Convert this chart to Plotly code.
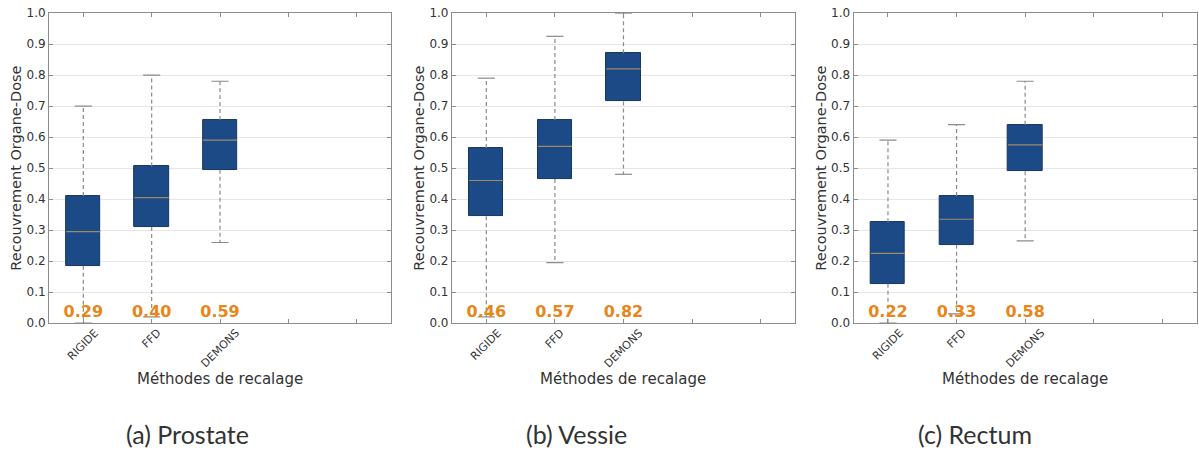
import plotly.graph_objects as go

# -- Donnees -------------------------------------------------------------------
METHODES = ["RIGIDE", "FFD", "DEMONS"]
POSITIONS = [1, 2, 3]
ORGANES = ["(a) Prostate", "(b) Vessie", "(c) Rectum"]

# statistiques des boites: moustache basse, Q1, mediane, Q3, moustache haute
prostate_bas = [0.00, 0.02, 0.26]
prostate_q1 = [0.185, 0.31, 0.495]
prostate_med = [0.295, 0.405, 0.59]
prostate_q3 = [0.41, 0.505, 0.655]
prostate_haut = [0.70, 0.80, 0.78]
prostate_moy = ["0.29", "0.40", "0.59"]

vessie_bas = [0.02, 0.195, 0.48]
vessie_q1 = [0.345, 0.465, 0.715]
vessie_med = [0.46, 0.57, 0.82]
vessie_q3 = [0.565, 0.655, 0.87]
vessie_haut = [0.79, 0.925, 1.0]
vessie_moy = ["0.46", "0.57", "0.82"]

rectum_bas = [0.00, 0.03, 0.265]
rectum_q1 = [0.127, 0.253, 0.49]
rectum_med = [0.225, 0.335, 0.575]
rectum_q3 = [0.325, 0.41, 0.64]
rectum_haut = [0.59, 0.64, 0.78]
rectum_moy = ["0.22", "0.33", "0.58"]

# -- Style ---------------------------------------------------------------------
BLEU = "#1c4a86"
GRIS = "#8a8a8a"
MEDIANE = "#a08a6a"
ORANGE = "#e8861a"
TEXTE = "#333333"
POLICE = "DejaVu Sans"
DEMI_BOITE = 0.25
DEMI_CAP = 0.125

DOMAINES_X = [[0.041, 0.326], [0.377, 0.663], [0.712, 0.998]]
DOMAINE_Y = [0.282, 0.971]
CENTRES_LEGENDE = [187, 576, 975]

panneaux = [
    (prostate_bas, prostate_q1, prostate_med, prostate_q3, prostate_haut, prostate_moy),
    (vessie_bas, vessie_q1, vessie_med, vessie_q3, vessie_haut, vessie_moy),
    (rectum_bas, rectum_q1, rectum_med, rectum_q3, rectum_haut, rectum_moy),
]

fig = go.Figure()

for i, (bas, q1, med, q3, haut, moy) in enumerate(panneaux):
    suffixe = "" if i == 0 else str(i + 1)
    xa, ya = "x" + suffixe, "y" + suffixe

    # moustaches en pointilles
    wx, wy = [], []
    for p, a, b, c, d in zip(POSITIONS, bas, q1, q3, haut):
        wx += [p, p, None, p, p, None]
        wy += [c, d, None, b, a, None]
    fig.add_trace(go.Scatter(x=wx, y=wy, mode="lines", xaxis=xa, yaxis=ya,
                             line=dict(color=GRIS, width=1.2, dash="4px,3px"),
                             hoverinfo="skip", showlegend=False))

    # boites
    fig.add_trace(go.Bar(x=POSITIONS, y=[c - b for b, c in zip(q1, q3)], base=q1,
                         width=2 * DEMI_BOITE, xaxis=xa, yaxis=ya,
                         marker=dict(color=BLEU, line=dict(color="#15365f", width=1)),
                         showlegend=False))

    # embouts des moustaches
    cx, cy = [], []
    for p, a, d in zip(POSITIONS, bas, haut):
        cx += [p - DEMI_CAP, p + DEMI_CAP, None, p - DEMI_CAP, p + DEMI_CAP, None]
        cy += [d, d, None, a, a, None]
    fig.add_trace(go.Scatter(x=cx, y=cy, mode="lines", xaxis=xa, yaxis=ya,
                             line=dict(color=GRIS, width=1.2),
                             hoverinfo="skip", showlegend=False))

    # medianes
    mx, my = [], []
    for p, m in zip(POSITIONS, med):
        mx += [p - DEMI_BOITE, p + DEMI_BOITE, None]
        my += [m, m, None]
    fig.add_trace(go.Scatter(x=mx, y=my, mode="lines", xaxis=xa, yaxis=ya,
                             line=dict(color=MEDIANE, width=1.2),
                             hoverinfo="skip", showlegend=False))

    # valeurs moyennes en orange
    fig.add_trace(go.Scatter(x=POSITIONS, y=[0.033] * 3, mode="text", text=moy,
                             xaxis=xa, yaxis=ya, cliponaxis=False,
                             textfont=dict(family=POLICE, size=16, color=ORANGE, weight="bold"),
                             hoverinfo="skip", showlegend=False))

    axe_commun = dict(showline=True, linecolor="#8c8c8c", linewidth=1.2, mirror="ticks",
                      ticks="inside", ticklen=4, tickcolor="#8c8c8c", automargin=False)
    fig.update_layout(**{
        "xaxis" + suffixe: dict(
            domain=DOMAINES_X[i], anchor=ya, range=[0.5, 5.5],
            tickvals=[1, 2, 3, 4, 5], showticklabels=False,
            showgrid=False, zeroline=False,
            **axe_commun,
        ),
        "yaxis" + suffixe: dict(
            domain=DOMAINE_Y, anchor=xa, range=[0, 1], dtick=0.1, tickformat=".1f",
            showgrid=True, gridcolor="#e6e6e6", zeroline=False,
            tickfont=dict(family=POLICE, size=12, color=TEXTE),
            title=dict(text="Recouvrement Organe-Dose", standoff=1,
                       font=dict(family=POLICE, size=14.5, color=TEXTE)),
            **axe_commun,
        ),
    })

    # etiquettes des methodes, centrees sous chaque graduation (style matplotlib)
    for p, nom in zip(POSITIONS, METHODES):
        fig.add_annotation(text=nom, xref=xa, yref=ya, x=p, y=0,
                           xanchor="center", yanchor="top", yshift=-2,
                           textangle=-45, showarrow=False, borderpad=0,
                           font=dict(family=POLICE, size=11, color=TEXTE))

    # titre de l'axe x
    fig.add_annotation(text="Méthodes de recalage", xref="paper", yref="paper",
                       x=sum(DOMAINES_X[i]) / 2, y=(450 - 379) / 450,
                       xanchor="center", yanchor="middle", showarrow=False,
                       font=dict(family=POLICE, size=15, color=TEXTE))

    fig.add_annotation(text=ORGANES[i], xref="paper", yref="paper",
                       x=CENTRES_LEGENDE[i] / 1199, y=(450 - 434) / 450,
                       xanchor="center", yanchor="middle", showarrow=False,
                       font=dict(family="Lato", size=25, color=TEXTE))

fig.update_layout(
    width=1199, height=450,
    margin=dict(l=0, r=0, t=0, b=0),
    paper_bgcolor="white", plot_bgcolor="white",
    bargap=0,
)

# la page html a une marge de 8px par defaut, on la retire
fig.write_html("out.html", config={"displayModeBar": False},
               post_script="document.body.style.margin='0';")
